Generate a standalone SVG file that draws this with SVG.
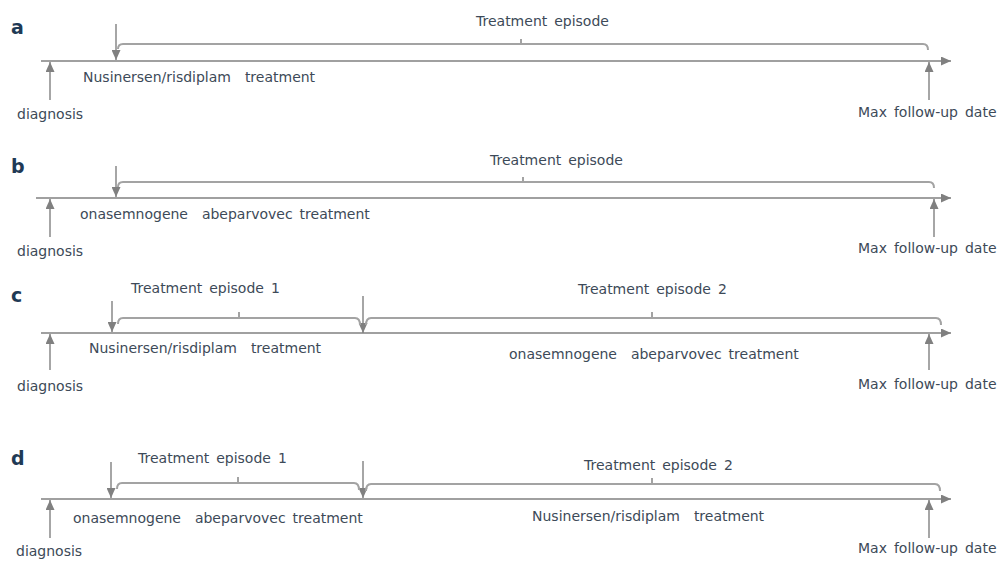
<svg xmlns="http://www.w3.org/2000/svg" width="1000" height="561" viewBox="0 0 1000 561">
<defs>
<style>
.t{font-family:"DejaVu Sans","Liberation Sans",sans-serif;font-size:14px;fill:#3d4a58;word-spacing:2.5px;white-space:pre}
.L{font-family:"DejaVu Sans","Liberation Sans",sans-serif;font-size:19px;font-weight:bold;fill:#1f3a55}
.ax{stroke:#808080;stroke-width:1.4;fill:none}
.ar{stroke:#808080;stroke-width:1.4;fill:none}
.br{stroke:#a3a3a3;stroke-width:2;fill:none}
</style>
<marker id="ah" markerUnits="userSpaceOnUse" markerWidth="10" markerHeight="9" refX="10" refY="4.5" orient="auto">
<path d="M0,0 L10,4.5 L0,9 z" fill="#808080"/>
</marker>
</defs>
<rect width="1000" height="561" fill="#ffffff"/>

<g id="connectors">
<line class="ax" x1="41" y1="61" x2="951" y2="61" marker-end="url(#ah)"/>
<line class="ar" x1="50" y1="100" x2="50" y2="62" marker-end="url(#ah)"/>
<line class="ar" x1="929" y1="100" x2="929" y2="62" marker-end="url(#ah)"/>
<line class="ar" x1="116" y1="24" x2="116" y2="60" marker-end="url(#ah)"/>
<path class="br" d="M118,49 Q118,44 123,44 L923,44 Q928,44 928,50"/>
<path class="br" d="M521,44 L521,39"/>
<line class="ax" x1="36" y1="198" x2="951" y2="198" marker-end="url(#ah)"/>
<line class="ar" x1="50" y1="237" x2="50" y2="199" marker-end="url(#ah)"/>
<line class="ar" x1="934" y1="237" x2="934" y2="199" marker-end="url(#ah)"/>
<line class="ar" x1="116" y1="166" x2="116" y2="197" marker-end="url(#ah)"/>
<path class="br" d="M118,187 Q118,182 123,182 L929,182 Q934,182 934,188"/>
<path class="br" d="M523,182 L523,177"/>
<line class="ax" x1="41" y1="333" x2="951" y2="333" marker-end="url(#ah)"/>
<line class="ar" x1="50" y1="370" x2="50" y2="334" marker-end="url(#ah)"/>
<line class="ar" x1="929" y1="370" x2="929" y2="334" marker-end="url(#ah)"/>
<line class="ar" x1="112" y1="301" x2="112" y2="332" marker-end="url(#ah)"/>
<line class="ar" x1="363" y1="296" x2="363" y2="333" marker-end="url(#ah)"/>
<path class="br" d="M118,324 Q118,318 123,318 L355,318 Q360,318 360,325"/>
<path class="br" d="M239,318 L239,312"/>
<path class="br" d="M366,325 Q366,318 371,318 L936,318 Q941,318 941,325"/>
<path class="br" d="M652,318 L652,312"/>
<line class="ax" x1="41" y1="499" x2="951" y2="499" marker-end="url(#ah)"/>
<line class="ar" x1="50" y1="538" x2="50" y2="500" marker-end="url(#ah)"/>
<line class="ar" x1="929" y1="538" x2="929" y2="500" marker-end="url(#ah)"/>
<line class="ar" x1="111" y1="462" x2="111" y2="498" marker-end="url(#ah)"/>
<line class="ar" x1="363" y1="461" x2="363" y2="498" marker-end="url(#ah)"/>
<path class="br" d="M117,489 Q117,483 122,483 L354,483 Q359,483 359,490"/>
<path class="br" d="M238,483 L238,477"/>
<path class="br" d="M366,491 Q366,484 371,484 L935,484 Q940,484 940,491"/>
<path class="br" d="M652,484 L652,478"/>
</g>

<g id="panel-a">
<text id="label-a" class="L" x="11" y="34">a</text>
<g id="a-episode"><text class="t" x="476" y="26">Treatment episode</text></g>
<g id="a-treatment"><text class="t" x="83" y="82" xml:space="preserve">Nusinersen/risdiplam  treatment</text></g>
<g id="a-diagnosis"><text class="t" x="17" y="119">diagnosis</text></g>
<g id="a-maxfu"><text class="t" x="858" y="117">Max follow-up date</text></g>
</g>

<g id="panel-b">
<text id="label-b" class="L" x="11" y="173">b</text>
<g id="b-episode"><text class="t" x="490" y="165">Treatment episode</text></g>
<g id="b-treatment"><text class="t" x="80" y="219" xml:space="preserve">onasemnogene  abeparvovec treatment</text></g>
<g id="b-diagnosis"><text class="t" x="17" y="256">diagnosis</text></g>
<g id="b-maxfu"><text class="t" x="858" y="253">Max follow-up date</text></g>
</g>

<g id="panel-c">
<text id="label-c" class="L" x="11" y="302">c</text>
<g id="c-episode1"><text class="t" x="131" y="293">Treatment episode 1</text></g>
<g id="c-episode2"><text class="t" x="578" y="294">Treatment episode 2</text></g>
<g id="c-treatment1"><text class="t" x="89" y="353" xml:space="preserve">Nusinersen/risdiplam  treatment</text></g>
<g id="c-treatment2"><text class="t" x="509" y="359" xml:space="preserve">onasemnogene  abeparvovec treatment</text></g>
<g id="c-diagnosis"><text class="t" x="17" y="391">diagnosis</text></g>
<g id="c-maxfu"><text class="t" x="858" y="389">Max follow-up date</text></g>
</g>

<g id="panel-d">
<text id="label-d" class="L" x="11" y="465">d</text>
<g id="d-episode1"><text class="t" x="138" y="463">Treatment episode 1</text></g>
<g id="d-episode2"><text class="t" x="584" y="470">Treatment episode 2</text></g>
<g id="d-treatment1"><text class="t" x="73" y="523" xml:space="preserve">onasemnogene  abeparvovec treatment</text></g>
<g id="d-treatment2"><text class="t" x="532" y="521" xml:space="preserve">Nusinersen/risdiplam  treatment</text></g>
<g id="d-diagnosis"><text class="t" x="16" y="556">diagnosis</text></g>
<g id="d-maxfu"><text class="t" x="858" y="553">Max follow-up date</text></g>
</g>
</svg>
